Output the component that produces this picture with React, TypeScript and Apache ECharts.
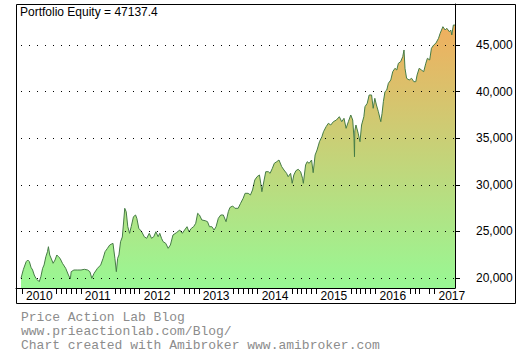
import React, { useEffect, useRef } from 'react';
import * as echarts from 'echarts';

const titleText = 'Portfolio Equity = 47137.4';
const footerLines = [
  'Price Action Lab Blog',
  'www.prieactionlab.com/Blog/',
  'Chart created with Amibroker www.amibroker.com',
];

const dates = [
  '2009-12-26', '2010-01-10', '2010-01-27', '2010-02-06', '2010-02-16', '2010-02-26', '2010-03-08', '2010-03-18',
  '2010-03-28', '2010-04-08', '2010-04-18', '2010-04-28', '2010-05-09', '2010-05-18', '2010-05-29', '2010-06-08',
  '2010-06-14', '2010-06-22', '2010-07-05', '2010-07-13', '2010-07-25', '2010-08-05', '2010-08-15', '2010-08-25',
  '2010-09-09', '2010-09-29', '2010-10-16', '2010-10-28', '2010-11-02', '2010-11-19', '2010-12-10',
  '2011-01-02', '2011-01-23', '2011-02-12', '2011-02-26', '2011-03-10', '2011-03-24', '2011-04-14', '2011-05-04',
  '2011-05-19', '2011-05-31', '2011-06-15', '2011-06-29', '2011-07-19', '2011-07-31', '2011-08-09', '2011-08-17',
  '2011-08-25', '2011-09-04', '2011-09-15', '2011-09-23', '2011-09-30', '2011-10-09', '2011-10-19', '2011-10-30',
  '2011-11-09', '2011-11-23', '2011-12-06', '2011-12-14', '2011-12-26',
  '2012-01-13', '2012-01-29', '2012-02-13', '2012-02-29', '2012-03-14', '2012-03-28', '2012-04-10', '2012-04-24',
  '2012-05-04', '2012-05-15', '2012-05-25', '2012-06-10', '2012-06-25', '2012-07-09', '2012-07-25', '2012-08-15',
  '2012-09-05', '2012-09-21', '2012-10-05', '2012-10-20', '2012-11-01', '2012-11-16', '2012-11-30', '2012-12-13',
  '2012-12-25',
  '2013-01-05', '2013-01-20', '2013-02-10', '2013-02-24', '2013-03-08', '2013-03-23', '2013-04-06', '2013-04-18',
  '2013-05-02', '2013-05-17', '2013-06-02', '2013-06-19', '2013-07-03', '2013-07-13', '2013-07-30', '2013-08-13',
  '2013-09-02', '2013-09-17', '2013-10-03', '2013-10-15', '2013-11-03', '2013-11-17', '2013-11-30', '2013-12-14',
  '2013-12-28',
  '2014-01-12', '2014-01-20', '2014-01-27', '2014-02-10', '2014-02-20', '2014-03-08', '2014-03-19', '2014-04-02',
  '2014-04-14', '2014-04-29', '2014-05-13', '2014-05-30', '2014-06-13', '2014-06-29', '2014-07-09', '2014-07-24',
  '2014-08-03', '2014-08-13', '2014-08-26', '2014-09-09', '2014-09-24', '2014-10-06', '2014-10-11', '2014-10-25',
  '2014-11-04', '2014-11-16', '2014-12-01', '2014-12-11', '2014-12-23',
  '2015-01-04', '2015-01-19', '2015-02-03', '2015-02-13', '2015-03-01', '2015-03-15', '2015-03-30', '2015-04-15',
  '2015-05-04', '2015-05-22', '2015-06-06', '2015-06-20', '2015-07-03', '2015-07-17', '2015-08-01', '2015-08-13',
  '2015-08-21', '2015-08-24', '2015-08-26', '2015-09-02', '2015-09-16', '2015-09-27', '2015-10-07', '2015-10-21',
  '2015-10-28', '2015-11-11', '2015-11-23', '2015-12-08', '2015-12-18', '2015-12-28',
  '2016-01-07', '2016-01-19', '2016-02-03', '2016-02-11', '2016-02-19', '2016-02-29', '2016-03-11', '2016-03-21',
  '2016-04-05', '2016-04-17', '2016-05-01', '2016-05-12', '2016-05-22', '2016-06-05', '2016-06-18', '2016-06-26',
  '2016-07-02', '2016-07-12', '2016-07-28', '2016-08-12', '2016-08-26', '2016-09-07', '2016-09-15', '2016-09-28',
  '2016-10-12', '2016-10-26', '2016-11-08', '2016-11-18', '2016-12-02', '2016-12-13', '2016-12-27',
  '2017-01-09', '2017-01-26', '2017-02-05', '2017-02-22', '2017-03-08', '2017-03-18', '2017-04-03', '2017-04-12',
  '2017-04-18', '2017-04-28', '2017-05-08',
];

const equity = [
  19970, 20933, 21749, 21931, 21749, 21148, 20858, 20322,
  19968, 19785, 19603, 20139, 21041, 21395, 22285, 22822,
  23358, 22468, 21931, 21577, 21931, 22468, 22285, 22114,
  21577, 21041, 20322, 19893, 20676, 20858, 20858,
  20858, 20933, 20858, 20676, 19968, 20504, 21041, 21395,
  22114, 22822, 23187, 23541, 23723, 22114, 20676, 22114,
  22468, 23895, 24399, 26009, 27479, 27114, 25505, 24796,
  25505, 26577, 26760, 26406, 25333,
  24968, 24431, 24260, 24796, 24260, 24431, 24968, 24431,
  24796, 24260, 23895, 23723, 23187, 23541, 24614, 24861,
  25150, 24796, 25150, 25505, 24968, 25333, 25505, 25869,
  26942,
  26760, 26223, 26148, 26041, 25505, 25505, 25150, 25505,
  26406, 26760, 26760, 26041, 27114, 27565, 27726, 27479,
  27479, 28015, 28552, 29088, 29088, 28906, 29442, 30515,
  30869,
  31052, 30161, 29260, 30515, 31406, 31406, 31234, 31771,
  32308, 32479, 32661, 31943, 31588, 31234, 30869, 31234,
  30161, 31052, 31513, 31663, 31406, 30698, 30161, 32125,
  32479, 32308, 32661, 31300, 33198,
  33734, 34625, 35161, 35698, 36234, 36599, 36417, 36771,
  36953, 37308, 36771, 37136, 36063, 36771, 37490, 36953,
  35000, 33015, 35800, 36417, 35526, 34625, 36417, 37308,
  38381, 38745, 39636, 39636, 38209, 39282,
  38563, 37844, 36771, 37672, 38917, 39990, 40172, 40891,
  41245, 42136, 42501, 42318, 43037, 43209, 43745, 44465,
  42501, 41428, 41245, 41428, 41063, 41063, 41781, 42501,
  42318, 42136, 43037, 43574, 43391, 44647, 45001,
  45183, 45720, 46257, 46965, 46610, 46793, 46428, 46610,
  46074, 47147, 47137.4,
];

const yearLabels = [
  '2010-01-01', '2011-01-01', '2012-01-01', '2013-01-01',
  '2014-01-01', '2015-01-01', '2016-01-01', '2017-01-01',
];

const monthTicks = [
  '2010-01-01', '2010-08-01', '2010-09-01', '2010-10-01', '2010-11-01', '2010-12-01',
  '2011-01-01', '2011-08-01', '2011-09-01', '2011-10-01', '2011-11-01', '2011-12-01',
  '2012-01-01', '2012-08-01', '2012-10-01', '2012-11-01', '2012-12-01',
  '2013-01-01', '2013-08-01', '2013-09-01', '2013-10-01', '2013-11-01', '2013-12-01',
  '2014-01-01', '2014-08-01', '2014-09-01', '2014-10-01', '2014-11-01', '2014-12-01',
  '2015-01-01', '2015-08-01', '2015-09-01', '2015-10-01', '2015-11-01', '2015-12-01',
  '2016-01-01', '2016-08-01', '2016-09-01', '2016-10-01', '2016-12-01',
  '2017-01-01',
];

const yTicks = [20000, 25000, 30000, 35000, 40000, 45000];
const xMin = '2009-11-25';
const xMax = '2017-05-08';
const yMin = 18927;
const yMax = 49400;

const ts = (s: string) => {
  const [y, m, d] = s.split('-').map(Number);
  return Date.UTC(y, m - 1, d);
};
const sansFont = '"Liberation Sans", Arial, sans-serif';

export default function App() {
  const ref = useRef<HTMLDivElement>(null);

  useEffect(() => {
    if (!ref.current) return;
    const chart = echarts.init(ref.current, null, { renderer: 'svg' });
    const data = dates.map((d, i) => [ts(d), equity[i]]);
    chart.setOption({
      animation: false,
      backgroundColor: '#ffffff',
      grid: { left: 16, top: 4, right: 72, bottom: 70, containLabel: false, outerBoundsMode: 'none' },
      xAxis: {
        type: 'value',
        min: ts(xMin),
        max: ts(xMax),
        z: 5,
        axisLine: { show: true, onZero: false, lineStyle: { color: '#000', width: 1 } },
        axisTick: { show: true, customValues: monthTicks.map(ts), length: 6, lineStyle: { color: '#000', width: 1 } },
        axisLabel: {
          customValues: yearLabels.map(ts),
          align: 'left',
          padding: [0, 0, 0, 4],
          margin: 2,
          color: '#000',
          fontSize: 12,
          fontFamily: sansFont,
          formatter: (v: number) => String(new Date(v).getUTCFullYear()),
        },
        splitLine: { show: false },
      },
      yAxis: {
        type: 'value',
        position: 'right',
        min: yMin,
        max: yMax,
        z: 5,
        axisLine: { show: true, lineStyle: { color: '#000', width: 1 } },
        axisTick: { show: true, customValues: yTicks, length: 5, lineStyle: { color: '#000', width: 1 } },
        axisLabel: {
          customValues: yTicks,
          margin: 21,
          color: '#000',
          fontSize: 12,
          fontFamily: sansFont,
          formatter: (v: number) => v.toLocaleString('en-US'),
        },
        splitLine: { show: true, lineStyle: { color: '#000', width: 1, type: [1, 7], dashOffset: 3 } },
      },
      series: [
        {
          type: 'line',
          data,
          symbol: 'none',
          showSymbol: false,
          silent: true,
          z: 2,
          lineStyle: { color: '#467c46', width: 1 },
          areaStyle: {
            origin: 'start',
            opacity: 1,
            color: new echarts.graphic.LinearGradient(
              0, 4, 0, 288,
              [
                { offset: 0, color: '#f7a95a' },
                { offset: 1, color: '#98f894' },
              ],
              true
            ),
          },
        },
      ],
      graphic: [
        {
          type: 'rect',
          silent: true,
          z: 10,
          shape: { x: 16.5, y: 4.5, width: 499, height: 299 },
          style: { fill: 'none', stroke: '#000', lineWidth: 1 },
        },
        {
          type: 'text',
          x: 20,
          y: 12,
          z: 10,
          style: { text: titleText, fill: '#000', fontSize: 12, fontFamily: sansFont, verticalAlign: 'middle' },
        },
        ...footerLines.map((t, i) => ({
          type: 'text',
          x: 21,
          y: 317 + i * 14,
          z: 10,
          style: {
            text: t,
            fill: '#8c8c8c',
            fontSize: 13,
            fontFamily: '"Liberation Mono", "Courier New", monospace',
            verticalAlign: 'middle',
          },
        })),
      ],
    });
    return () => chart.dispose();
  }, []);

  return (
    <div
      ref={ref}
      style={{ position: 'absolute', left: 0, top: 0, width: 527, height: 358, background: '#fff' }}
    />
  );
}
